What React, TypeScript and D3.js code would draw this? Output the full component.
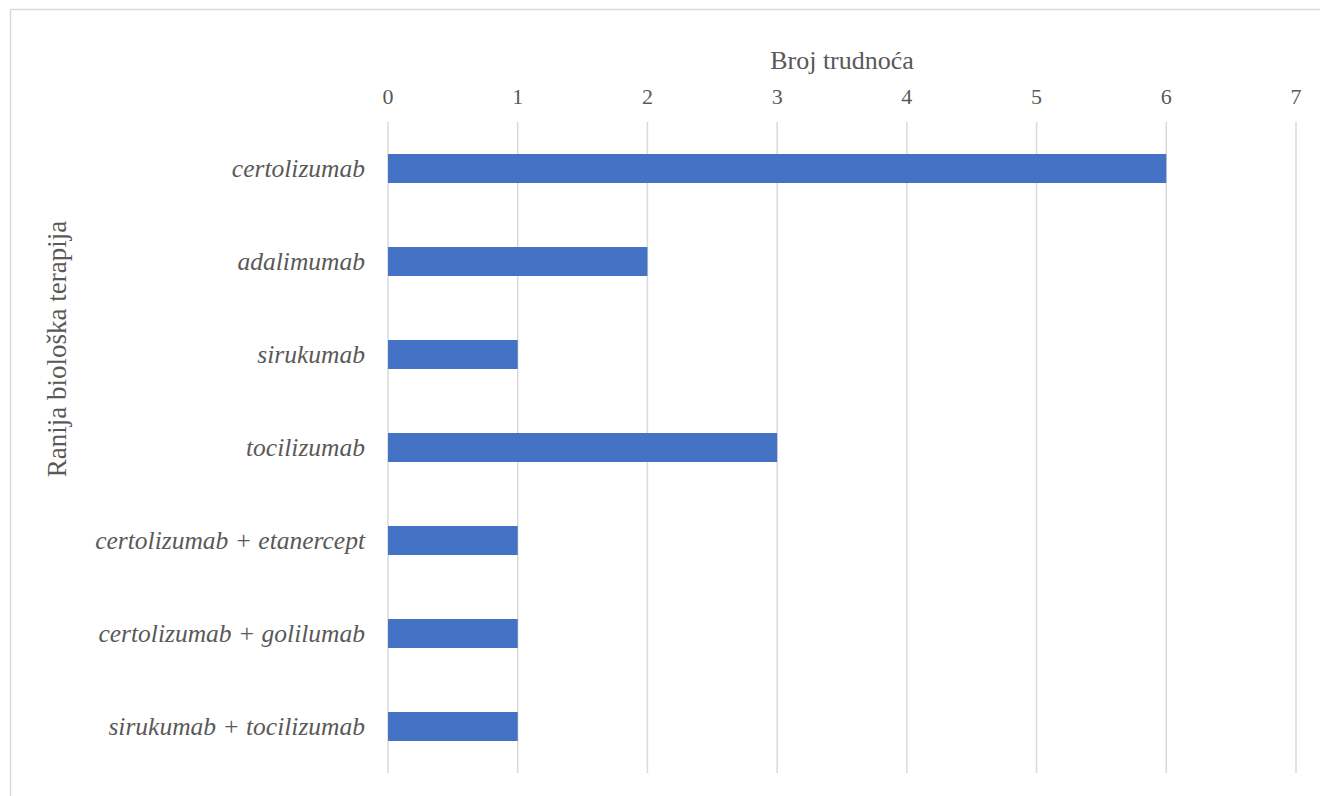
import React, { useEffect, useRef } from "react";
import * as d3 from "d3";

const categories = [
  "certolizumab",
  "adalimumab",
  "sirukumab",
  "tocilizumab",
  "certolizumab + etanercept",
  "certolizumab + golilumab",
  "sirukumab + tocilizumab",
];
const values = [6, 2, 1, 3, 1, 1, 1];
const xTicks = [0, 1, 2, 3, 4, 5, 6, 7];
const xTitle = "Broj trudnoća";
const yTitle = "Ranija biološka terapija";

const W = 1320;
const H = 796;

export default function App() {
  const ref = useRef<SVGSVGElement>(null);
  useEffect(() => {
    const svg = d3.select(ref.current);
    svg.selectAll("*").remove();
    const font = "'Liberation Serif', Tinos, 'Times New Roman', Times, serif";
    const textColor = "#595959";

    svg
      .append("rect")
      .attr("x", 10.5)
      .attr("y", 9.5)
      .attr("width", W + 20)
      .attr("height", H + 20)
      .attr("fill", "#fff")
      .attr("stroke", "#d9d9d9")
      .attr("stroke-width", 1.5);

    const x = d3.scaleLinear().domain([0, 7]).range([388, 1296]);
    const y = d3.scaleBand<string>().domain(categories).range([122, 773]).paddingInner(0).paddingOuter(0);

    const g = svg.append("g");
    g.selectAll("line.grid")
      .data(xTicks)
      .join("line")
      .attr("x1", (d) => x(d))
      .attr("x2", (d) => x(d))
      .attr("y1", y.range()[0])
      .attr("y2", y.range()[1])
      .attr("stroke", "#d9d9d9")
      .attr("stroke-width", 1.5);

    const bh = 29;
    g.selectAll("rect.bar")
      .data(categories)
      .join("rect")
      .attr("x", x(0))
      .attr("y", (d) => (y(d) as number) + y.bandwidth() / 2 - bh / 2)
      .attr("width", (d, i) => x(values[i]) - x(0))
      .attr("height", bh)
      .attr("fill", "#4472c4");

    g.selectAll("text.tick")
      .data(xTicks)
      .join("text")
      .attr("x", (d) => x(d))
      .attr("y", 104)
      .attr("text-anchor", "middle")
      .style("font-family", font)
      .attr("font-size", 22)
      .attr("fill", textColor)
      .text((d) => String(d));

    g.selectAll("text.cat")
      .data(categories)
      .join("text")
      .attr("x", 365)
      .attr("y", (d) => (y(d) as number) + y.bandwidth() / 2)
      .attr("dy", "0.35em")
      .attr("text-anchor", "end")
      .style("font-family", font)
      .attr("font-style", "italic")
      .attr("font-size", 25.5)
      .attr("fill", textColor)
      .text((d) => d);

    svg
      .append("text")
      .attr("x", (x(0) + x(7)) / 2)
      .attr("y", 69)
      .attr("text-anchor", "middle")
      .style("font-family", font)
      .attr("font-size", 26)
      .attr("fill", textColor)
      .text(xTitle);

    svg
      .append("text")
      .attr("transform", `translate(66, 349) rotate(-90)`)
      .attr("text-anchor", "middle")
      .style("font-family", font)
      .attr("font-size", 27)
      .attr("fill", textColor)
      .text(yTitle);
  }, []);
  return (
    <svg
      ref={ref}
      width={W}
      height={H}
      style={{ position: "absolute", left: 0, top: 0, background: "#fff" }}
    />
  );
}
